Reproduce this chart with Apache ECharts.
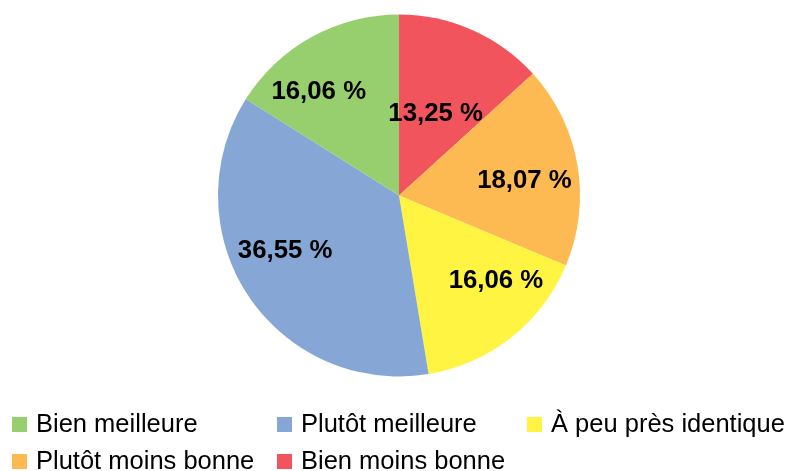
<!DOCTYPE html>
<html>
<head>
<meta charset="utf-8">
<script src="https://cdn.jsdelivr.net/npm/echarts@6/dist/echarts.min.js"></script>
<style>
html,body{margin:0;padding:0;background:#fff;}
#chart{width:789px;height:471px;}
</style>
</head>
<body>
<div id="chart"></div>
<script>
// Data (clockwise from 12 o'clock)
const categories = ['Bien moins bonne', 'Plutôt moins bonne', 'À peu près identique', 'Plutôt meilleure', 'Bien meilleure'];
const values = [13.25, 18.07, 16.06, 36.55, 16.06];
const colors = ['#f2545d', '#fdba52', '#fff442', '#86a7d6', '#97cf6f'];
const legendOrder = ['Bien meilleure', 'Plutôt meilleure', 'À peu près identique', 'Plutôt moins bonne', 'Bien moins bonne'];

// label placement tweaks (angle shift in degrees, radius fraction)
const labelAngleShift = [0.3, 3, -10.3, 7.8, -8.8];
const labelRadiusFrac = [0.495, 0.698, 0.714, 0.699, 0.725];

const cx = 399, cy = 195.5, R = 181;
const total = values.reduce((a, b) => a + b, 0);
const midAngles = [];
let acc = 0;
values.forEach(v => { midAngles.push((acc + v / 2) / total * 360); acc += v; });

const chart = echarts.init(document.getElementById('chart'), null, {renderer: 'canvas'});

const legendPos = [
  {left: 12, top: 411}, {left: 277, top: 411}, {left: 527, top: 411},
  {left: 12, top: 448}, {left: 277, top: 448}
];
const legends = legendOrder.map((name, i) => ({
  data: [name],
  left: legendPos[i].left,
  top: legendPos[i].top,
  orient: 'horizontal',
  icon: 'rect',
  itemWidth: 15,
  itemHeight: 15,
  padding: 0,
  selectedMode: false,
  textStyle: {
    fontFamily: 'Liberation Sans',
    fontSize: 25.5,
    lineHeight: 27,
    color: '#000',
    padding: [0, 0, 0, 4]
  }
}));

chart.setOption({
  animation: false,
  backgroundColor: '#fff',
  legend: legends,
  series: [{
    type: 'pie',
    center: [cx, cy],
    radius: [0, R],
    startAngle: 90,
    clockwise: true,
    avoidLabelOverlap: false,
    emphasis: {disabled: true},
    itemStyle: {borderWidth: 0},
    label: {
      show: true,
      position: 'inside',
      fontFamily: 'Liberation Sans',
      fontWeight: 'bold',
      fontSize: 25.8,
      color: '#000',
      formatter: p => p.value.toFixed(2).replace('.', ',') + ' %'
    },
    labelLine: {show: false},
    labelLayout: function (params) {
      const i = params.dataIndex;
      const a = (midAngles[i] + labelAngleShift[i]) * Math.PI / 180;
      const r = R * labelRadiusFrac[i];
      return {
        x: cx + r * Math.sin(a),
        y: cy - r * Math.cos(a),
        align: 'center',
        verticalAlign: 'middle'
      };
    },
    data: categories.map((c, i) => ({name: c, value: values[i], itemStyle: {color: colors[i]}}))
  }]
});
</script>
</body>
</html>
